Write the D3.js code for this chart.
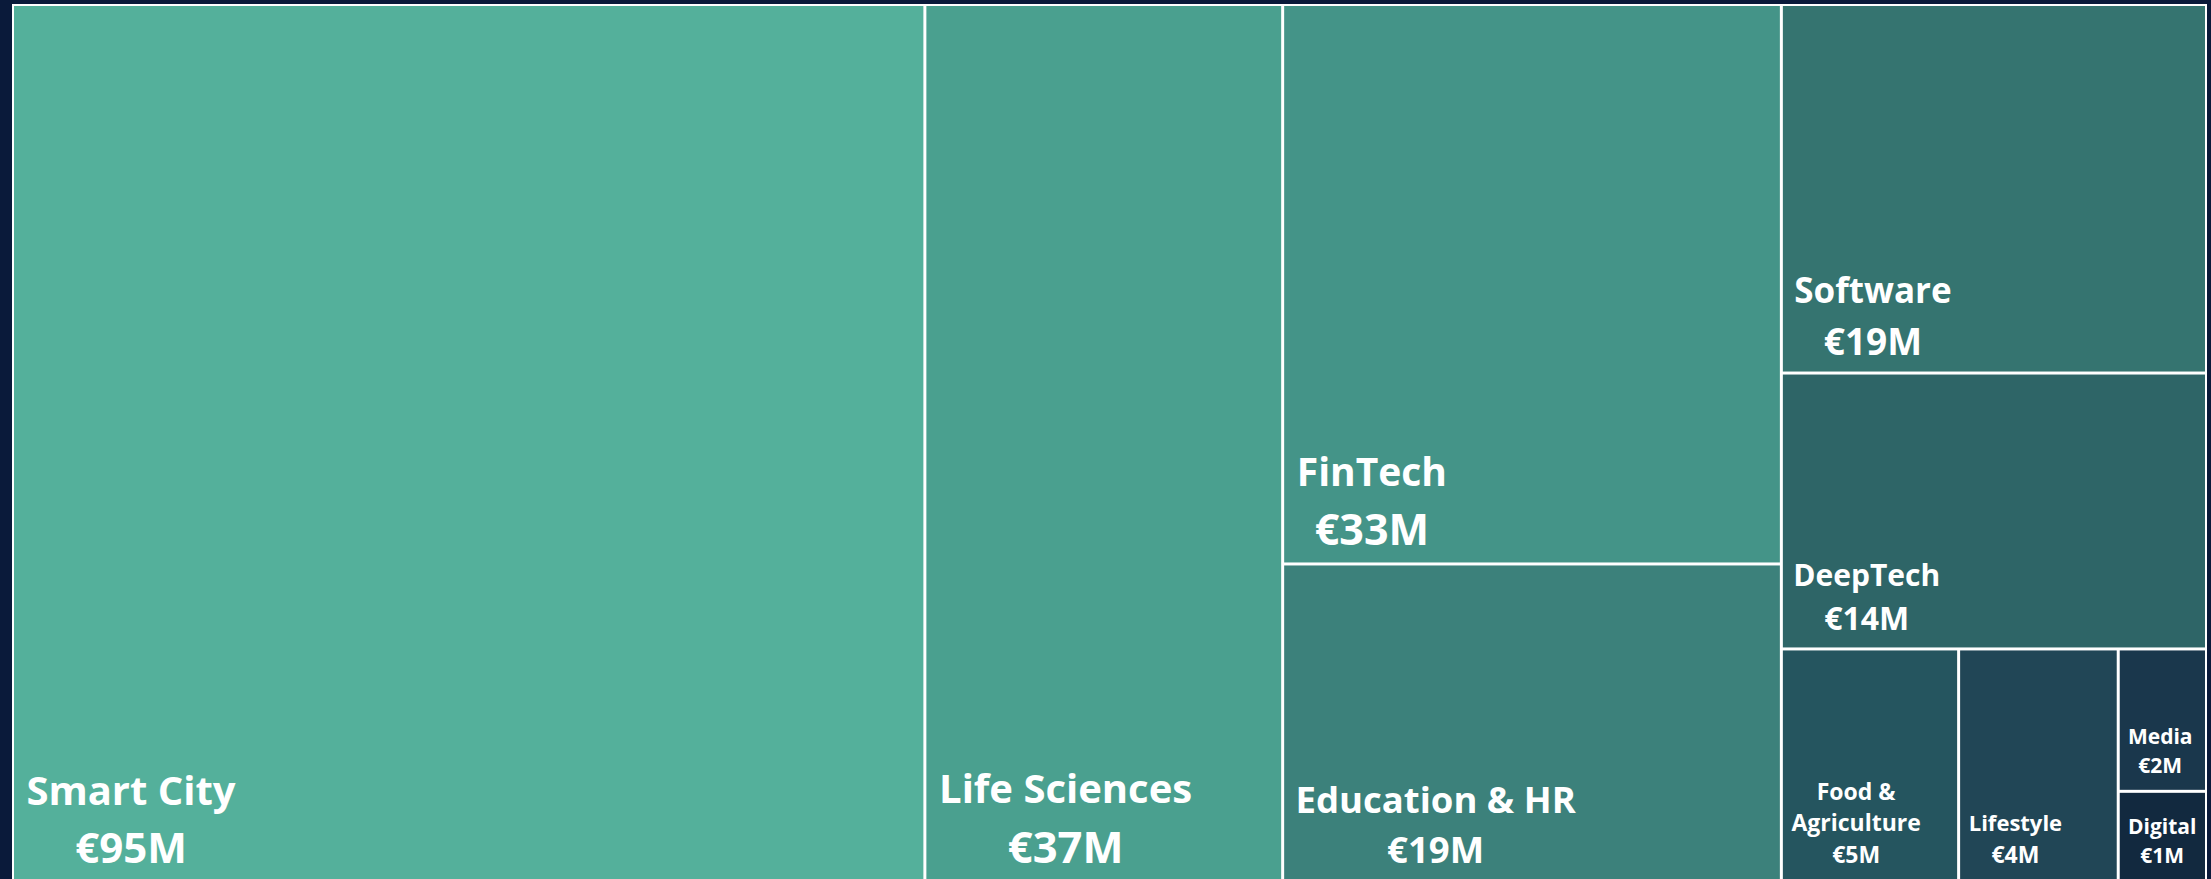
<!DOCTYPE html>
<html><head><meta charset="utf-8">
<script src="https://cdn.jsdelivr.net/npm/d3@7"></script>
<style>html,body{margin:0;padding:0;background:#0a1a3a;overflow:hidden}svg{display:block}</style>
</head><body>
<svg id="chart" width="2211" height="879"></svg>
<script>
// ---- data ----
const categories = ["Smart City","Life Sciences","FinTech","Education & HR","Software","DeepTech","Food & Agriculture","Lifestyle","Media","Digital"];
const fundingM = [95.5, 37.45, 33.3, 18.9, 18.7, 14.0, 4.92, 4.43, 1.5, 0.95];
const valueLabels = ["€95M","€37M","€33M","€19M","€19M","€14M","€5M","€4M","€2M","€1M"];
// tiling groups (indices into categories)
const layoutGroups = [[0],[1],[2,3],[4,5,[6,7,[8,9]]]];

// ---- styles ----
const colors = ["#54b09b","#4aa08f","#449488","#3c817b","#357470","#2e6567","#25555f","#214656","#1a374c","#12293f"];
const nameSizes  = [40, 40, 39, 36.5, 35, 30, 23, 22, 21, 21];
const valueSizes = [42, 43.5, 43, 36.5, 37, 32, 23, 23, 21, 21];

const W = 2195, H = 878;
const svg = d3.select("#chart");
const g = svg.append("g").attr("transform","translate(12,4)");

function build(x){ return Array.isArray(x) ? {children: x.map(build)} : {idx: x, value: fundingM[x]}; }
const root = d3.hierarchy(build(layoutGroups)).sum(d => d.value || 0);
d3.treemap()
  .tile(d3.treemapSliceDice)
  .size([W, H])
  .paddingInner(3)
  .paddingOuter(d => d.depth === 0 ? 2 : 0)
  (root);

g.append("rect").attr("width", W).attr("height", H).attr("fill", "#ffffff");

const leaves = root.leaves();
g.selectAll("rect.cell").data(leaves).join("rect")
  .attr("class","cell")
  .attr("x", d => d.x0).attr("y", d => d.y0)
  .attr("width", d => d.x1 - d.x0).attr("height", d => d.y1 - d.y0)
  .attr("fill", d => colors[d.data.idx]);

const FONT = "'Open Sans', 'Noto Sans', sans-serif";
const measurer = g.append("text").attr("font-family", FONT).attr("font-weight", 700).attr("visibility","hidden");
function textW(s, fs){ measurer.attr("font-size", fs).text(s); return measurer.node().getComputedTextLength(); }
function wrap(label, maxW, fs){
  const words = label.split(" "); const lines = []; let cur = "";
  words.forEach(w => {
    const t = cur ? cur + " " + w : w;
    if (cur && textW(t, fs) > maxW) { lines.push(cur); cur = w; } else cur = t;
  });
  if (cur) lines.push(cur);
  return lines;
}

const GAP = 17;
leaves.forEach(d => {
  const i = d.data.idx, fn = nameSizes[i], fv = valueSizes[i];
  const fs = Math.max(fn, fv);
  const pad = 4 + 0.2 * fs;
  const nameLines = wrap(categories[i], (d.x1 - d.x0) - 2*pad, fn);
  const lines = nameLines.map(s => ({s, f: fn})).concat([{s: valueLabels[i], f: fv}]);
  const lh = fs * 1.38;
  const last = d.y1 - GAP;
  const bw = d3.max(lines, l => textW(l.s, l.f));
  const cx = d.x0 + pad + bw/2;
  const t = g.append("text").attr("font-family", FONT).attr("font-weight", 700)
    .attr("fill", "#ffffff").attr("text-anchor","middle");
  lines.forEach((l, k) => {
    t.append("tspan").attr("x", cx).attr("y", last - (lines.length - 1 - k) * lh)
      .attr("font-size", l.f).text(l.s);
  });
});
measurer.remove();
</script>
</body></html>
